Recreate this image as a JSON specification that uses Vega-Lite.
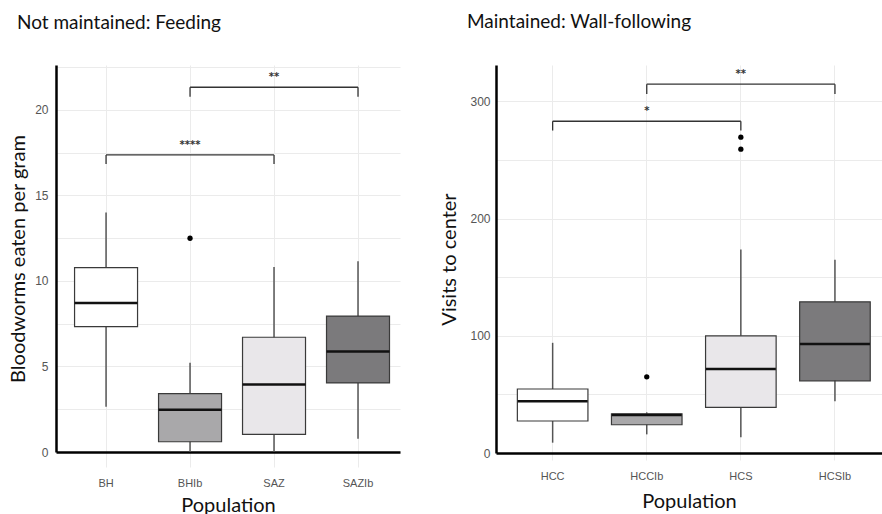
{
  "$schema": "https://vega.github.io/schema/vega-lite/v6.json",
  "background": "white",
  "padding": {"left": 8, "top": 13, "right": 0, "bottom": 0},
  "spacing": 39,
  "config": {
    "view": {"stroke": null},
    "font": "Lato",
    "axis": {
      "grid": true,
      "gridColor": "#ebebeb",
      "gridWidth": 1,
      "domainColor": "#000000",
      "domainWidth": 2.5,
      "ticks": false,
      "labelFont": "Liberation Sans",
      "labelColor": "#555555",
      "titleFont": "Lato",
      "titleFontWeight": "normal",
      "titleColor": "#111111",
      "titleFontSize": 20
    }
  },
  "datasets": {
    "feedBox": [
      {"pop": "BH", "lower": 2.65, "q1": 7.33, "median": 8.71, "q3": 10.78, "upper": 14.0},
      {"pop": "BHIb", "lower": 0.0, "q1": 0.6, "median": 2.47, "q3": 3.41, "upper": 5.22},
      {"pop": "SAZ", "lower": 0.0, "q1": 1.03, "median": 3.94, "q3": 6.71, "upper": 10.82},
      {"pop": "SAZIb", "lower": 0.78, "q1": 4.04, "median": 5.87, "q3": 7.95, "upper": 11.15}
    ],
    "feedOut": [
      {"pop": "BHIb", "value": 12.5}
    ],
    "feedBr": [
      {"from": "BH", "to": "SAZ", "mid": "BHIb", "y": 17.37, "tip": 16.84, "label": "****"},
      {"from": "BHIb", "to": "SAZIb", "mid": "SAZ", "y": 21.33, "tip": 20.78, "label": "**"}
    ],
    "wallBox": [
      {"pop": "HCC", "lower": 8.8, "q1": 27.3, "median": 44.1, "q3": 54.6, "upper": 94.0},
      {"pop": "HCCIb", "lower": 15.9, "q1": 24.1, "median": 32.4, "q3": 33.5, "upper": 34.7},
      {"pop": "HCS", "lower": 13.4, "q1": 39.0, "median": 71.6, "q3": 100.0, "upper": 173.7},
      {"pop": "HCSIb", "lower": 44.1, "q1": 61.6, "median": 92.9, "q3": 129.0, "upper": 164.8}
    ],
    "wallOut": [
      {"pop": "HCCIb", "value": 65.0},
      {"pop": "HCS", "value": 259.2},
      {"pop": "HCS", "value": 269.4}
    ],
    "wallBr": [
      {"from": "HCC", "to": "HCS", "mid": "HCCIb", "y": 283.0, "tip": 275.1, "label": "*"},
      {"from": "HCCIb", "to": "HCSIb", "mid": "HCS", "y": 314.6, "tip": 306.3, "label": "**"}
    ]
  },
  "hconcat": [
    {
      "width": 344,
      "height": 387,
      "title": {"text": "Not maintained: Feeding", "anchor": "start", "frame": "group", "dx": -39, "fontSize": 19, "font": "Lato", "fontWeight": "normal", "color": "#111111", "offset": 32},
      "encoding": {
        "x": {"field": "pop", "type": "nominal", "sort": ["BH", "BHIb", "SAZ", "SAZIb"],
          "scale": {"type": "band", "domain": ["BH", "BHIb", "SAZ", "SAZIb"], "paddingInner": 0, "paddingOuter": 0.048, "align": 1},
          "axis": {"title": "Population", "labelAngle": 0, "labelFontSize": 11, "ticks": true, "tickColor": "#ebebeb", "tickWidth": 1, "tickSize": 15, "labelPadding": 10, "titlePadding": 7, "bandPosition": 0.5}}
      },
      "layer": [
        {
          "data": {"name": "feedBox"},
          "mark": {"type": "rule", "color": "#555555", "strokeWidth": 1.5},
          "encoding": {
            "y": {"field": "lower", "type": "quantitative", "scale": {"domain": [0, 22.63], "nice": false, "zero": false},
              "axis": {"title": "Bloodworms eaten per gram", "values": [0, 2.5, 5, 7.5, 10, 12.5, 15, 17.5, 20, 22.5], "labelExpr": "datum.value % 5 === 0 ? datum.label : ''", "labelFontSize": 12, "labelPadding": 8, "titlePadding": 6}},
            "y2": {"field": "upper"}
          }
        },
        {
          "data": {"name": "feedBox"},
          "mark": {"type": "bar", "width": {"band": 0.75}, "stroke": "#3a3a3a", "strokeWidth": 1.2},
          "encoding": {
            "y": {"field": "q1", "type": "quantitative"},
            "y2": {"field": "q3"},
            "fill": {"field": "pop", "type": "nominal", "scale": {"domain": ["BH", "BHIb", "SAZ", "SAZIb"], "range": ["#ffffff", "#a9a8aa", "#e9e7ea", "#7b7a7c"]}, "legend": null}
          }
        },
        {
          "data": {"name": "feedBox"},
          "mark": {"type": "tick", "size": 63, "thickness": 2.5, "color": "#111111", "opacity": 1},
          "encoding": {"y": {"field": "median", "type": "quantitative"}}
        },
        {
          "data": {"name": "feedOut"},
          "mark": {"type": "point", "filled": true, "color": "#000000", "size": 28, "opacity": 1},
          "encoding": {"y": {"field": "value", "type": "quantitative"}}
        },
        {
          "data": {"name": "feedBr"},
          "mark": {"type": "rule", "color": "#333333", "strokeWidth": 1.3},
          "encoding": {"x": {"field": "from", "type": "nominal"}, "x2": {"field": "to"}, "y": {"field": "y", "type": "quantitative"}}
        },
        {
          "data": {"name": "feedBr"},
          "mark": {"type": "rule", "color": "#333333", "strokeWidth": 1.3},
          "encoding": {"x": {"field": "from", "type": "nominal"}, "y": {"field": "tip", "type": "quantitative"}, "y2": {"field": "y"}}
        },
        {
          "data": {"name": "feedBr"},
          "mark": {"type": "rule", "color": "#333333", "strokeWidth": 1.3},
          "encoding": {"x": {"field": "to", "type": "nominal"}, "y": {"field": "tip", "type": "quantitative"}, "y2": {"field": "y"}}
        },
        {
          "data": {"name": "feedBr"},
          "mark": {"type": "text", "font": "DejaVu Sans", "fontSize": 10, "fontWeight": "bold", "color": "#333333", "baseline": "bottom", "dy": -5},
          "encoding": {"x": {"field": "mid", "type": "nominal"}, "y": {"field": "y", "type": "quantitative"}, "text": {"field": "label"}}
        }
      ]
    },
    {
      "width": 386,
      "height": 388,
      "title": {"text": "Maintained: Wall-following", "anchor": "start", "frame": "group", "dx": -29, "fontSize": 19, "font": "Lato", "fontWeight": "normal", "color": "#111111", "offset": 33},
      "encoding": {
        "x": {"field": "pop", "type": "nominal", "sort": ["HCC", "HCCIb", "HCS", "HCSIb"],
          "scale": {"type": "band", "domain": ["HCC", "HCCIb", "HCS", "HCSIb"], "paddingInner": 0, "paddingOuter": 0.051, "align": 1},
          "axis": {"title": "Population", "labelAngle": 0, "labelFontSize": 11, "ticks": true, "tickColor": "#ebebeb", "tickWidth": 1, "tickSize": 7, "labelPadding": 10, "titlePadding": 10, "bandPosition": 0.5}}
      },
      "layer": [
        {
          "data": {"name": "wallBox"},
          "mark": {"type": "rule", "color": "#555555", "strokeWidth": 1.5},
          "encoding": {
            "y": {"field": "lower", "type": "quantitative", "scale": {"domain": [0, 331], "nice": false, "zero": false},
              "axis": {"title": "Visits to center", "values": [0, 50, 100, 150, 200, 250, 300], "labelExpr": "datum.value % 100 === 0 ? datum.label : ''", "labelFontSize": 12, "labelPadding": 6, "titlePadding": 10}},
            "y2": {"field": "upper"}
          }
        },
        {
          "data": {"name": "wallBox"},
          "mark": {"type": "bar", "width": {"band": 0.75}, "stroke": "#3a3a3a", "strokeWidth": 1.2},
          "encoding": {
            "y": {"field": "q1", "type": "quantitative"},
            "y2": {"field": "q3"},
            "fill": {"field": "pop", "type": "nominal", "scale": {"domain": ["HCC", "HCCIb", "HCS", "HCSIb"], "range": ["#ffffff", "#a9a8aa", "#e9e7ea", "#7b7a7c"]}, "legend": null}
          }
        },
        {
          "data": {"name": "wallBox"},
          "mark": {"type": "tick", "size": 70, "thickness": 2.5, "color": "#111111", "opacity": 1},
          "encoding": {"y": {"field": "median", "type": "quantitative"}}
        },
        {
          "data": {"name": "wallOut"},
          "mark": {"type": "point", "filled": true, "color": "#000000", "size": 28, "opacity": 1},
          "encoding": {"y": {"field": "value", "type": "quantitative"}}
        },
        {
          "data": {"name": "wallBr"},
          "mark": {"type": "rule", "color": "#333333", "strokeWidth": 1.3},
          "encoding": {"x": {"field": "from", "type": "nominal"}, "x2": {"field": "to"}, "y": {"field": "y", "type": "quantitative"}}
        },
        {
          "data": {"name": "wallBr"},
          "mark": {"type": "rule", "color": "#333333", "strokeWidth": 1.3},
          "encoding": {"x": {"field": "from", "type": "nominal"}, "y": {"field": "tip", "type": "quantitative"}, "y2": {"field": "y"}}
        },
        {
          "data": {"name": "wallBr"},
          "mark": {"type": "rule", "color": "#333333", "strokeWidth": 1.3},
          "encoding": {"x": {"field": "to", "type": "nominal"}, "y": {"field": "tip", "type": "quantitative"}, "y2": {"field": "y"}}
        },
        {
          "data": {"name": "wallBr"},
          "mark": {"type": "text", "font": "DejaVu Sans", "fontSize": 10, "fontWeight": "bold", "color": "#333333", "baseline": "bottom", "dy": -5},
          "encoding": {"x": {"field": "mid", "type": "nominal"}, "y": {"field": "y", "type": "quantitative"}, "text": {"field": "label"}}
        }
      ]
    }
  ]
}
